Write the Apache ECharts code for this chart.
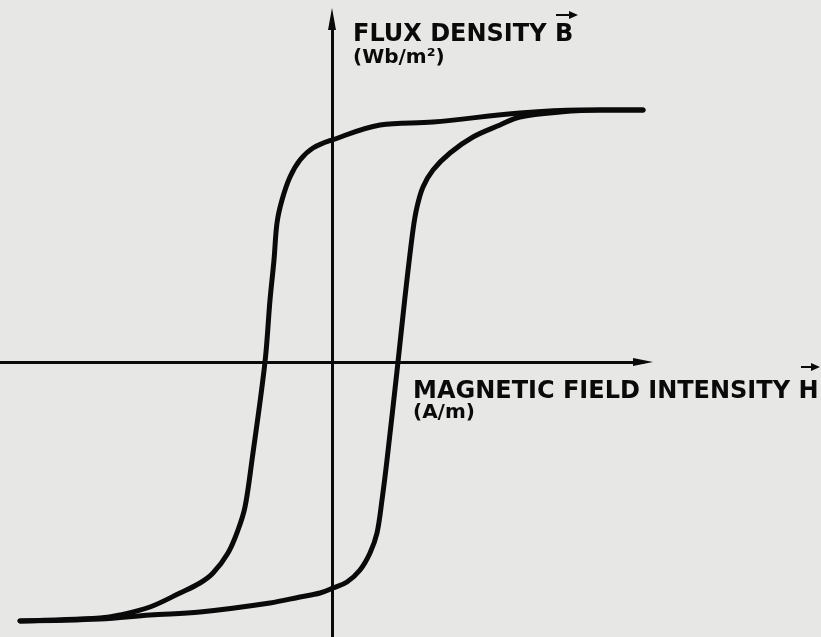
<!DOCTYPE html>
<html>
<head>
<meta charset="utf-8">
<script src="https://cdn.jsdelivr.net/npm/echarts@6/dist/echarts.min.js"></script>
<style>
  html, body { margin: 0; padding: 0; background: #e7e7e5; }
  #chart { width: 821px; height: 637px; }
</style>
</head>
<body>
<div id="chart"></div>
<script>
// descending branch (from positive saturation down to negative)
const descH = [31.1, 24.8, 18.8, 10.1, 4.8, 0.0, -1.9, -3.2, -4.2, -5.0, -5.5, -5.8, -6.2, -6.7, -8.0, -8.7, -9.4, -10.4, -11.9, -13.2, -15.2, -18.2, -21.2, -23.2, -31.2];
const descB = [1.26, 1.26, 1.245, 1.2, 1.185, 1.11, 1.07, 1.01, 0.925, 0.81, 0.695, 0.51, 0.31, 0, -0.49, -0.725, -0.84, -0.955, -1.055, -1.105, -1.155, -1.225, -1.265, -1.28, -1.295];
// ascending branch (from negative saturation back up)
const ascH = [-31.2, -23.2, -18.2, -13.2, -6.2, -3.2, -1.2, 0.1, 1.5, 2.8, 3.8, 4.5, 5.0, 5.5, 6.6, 7.3, 8.1, 8.5, 9.1, 10.1, 11.8, 14.1, 16.8, 18.8, 22.8, 26.8, 31.1];
const ascB = [-1.295, -1.285, -1.265, -1.25, -1.205, -1.175, -1.155, -1.13, -1.1, -1.04, -0.955, -0.855, -0.69, -0.49, 0, 0.325, 0.66, 0.775, 0.875, 0.96, 1.045, 1.125, 1.185, 1.225, 1.25, 1.26, 1.26];

const yLabel = 'FLUX DENSITY B';
const yUnit = '(Wb/m²)';
const xLabel = 'MAGNETIC FIELD INTENSITY H';
const xUnit = '(A/m)';

function pairs(xs, ys) {
  return xs.map((x, i) => [x, ys[i]]);
}

const chart = echarts.init(document.getElementById('chart'));
const ink = '#0a0a0a';
const font = '"DejaVu Sans", sans-serif';

const lineStyle = { color: ink, width: 5, cap: 'round', join: 'round' };

chart.setOption({
  backgroundColor: '#e7e7e5',
  animation: false,
  grid: { left: 0, right: 178, top: 19, bottom: 0 },
  xAxis: {
    type: 'value',
    min: -33.2,
    max: 31.1,
    axisLine: {
      show: true,
      symbol: ['none', 'triangle'],
      symbolSize: [8, 20],
      lineStyle: { color: ink, width: 3 }
    },
    axisTick: { show: false },
    axisLabel: { show: false },
    splitLine: { show: false }
  },
  yAxis: {
    type: 'value',
    min: -1.375,
    max: 1.715,
    axisLine: {
      show: true,
      symbol: ['none', 'triangle'],
      symbolSize: [8, 22],
      lineStyle: { color: ink, width: 3 }
    },
    axisTick: { show: false },
    axisLabel: { show: false },
    splitLine: { show: false }
  },
  series: [
    {
      name: 'descending',
      type: 'line',
      data: pairs(descH, descB),
      smooth: 0.35,
      symbol: 'none',
      clip: false,
      lineStyle: lineStyle
    },
    {
      name: 'ascending',
      type: 'line',
      data: pairs(ascH, ascB),
      smooth: 0.35,
      symbol: 'none',
      clip: false,
      lineStyle: lineStyle
    }
  ],
  graphic: [
    {
      type: 'text', left: 353, top: 23,
      style: { text: yLabel, font: 'bold 24px ' + font, fill: ink }
    },
    {
      type: 'text', left: 353, top: 48,
      style: { text: yUnit, font: 'bold 20px ' + font, fill: ink }
    },
    {
      type: 'text', left: 413, top: 380,
      style: { text: xLabel, font: 'bold 24px ' + font, fill: ink }
    },
    {
      type: 'text', left: 413, top: 403,
      style: { text: xUnit, font: 'bold 20px ' + font, fill: ink }
    },
    // vector arrows over B and H
    { type: 'line', shape: { x1: 556, y1: 15, x2: 574, y2: 15 }, style: { stroke: ink, lineWidth: 2 } },
    { type: 'polygon', shape: { points: [[569, 11], [578, 15], [569, 19]] }, style: { fill: ink } },
    { type: 'line', shape: { x1: 801, y1: 367, x2: 815, y2: 367 }, style: { stroke: ink, lineWidth: 2 } },
    { type: 'polygon', shape: { points: [[811, 363], [820, 367], [811, 371]] }, style: { fill: ink } }
  ]
});
</script>
</body>
</html>
